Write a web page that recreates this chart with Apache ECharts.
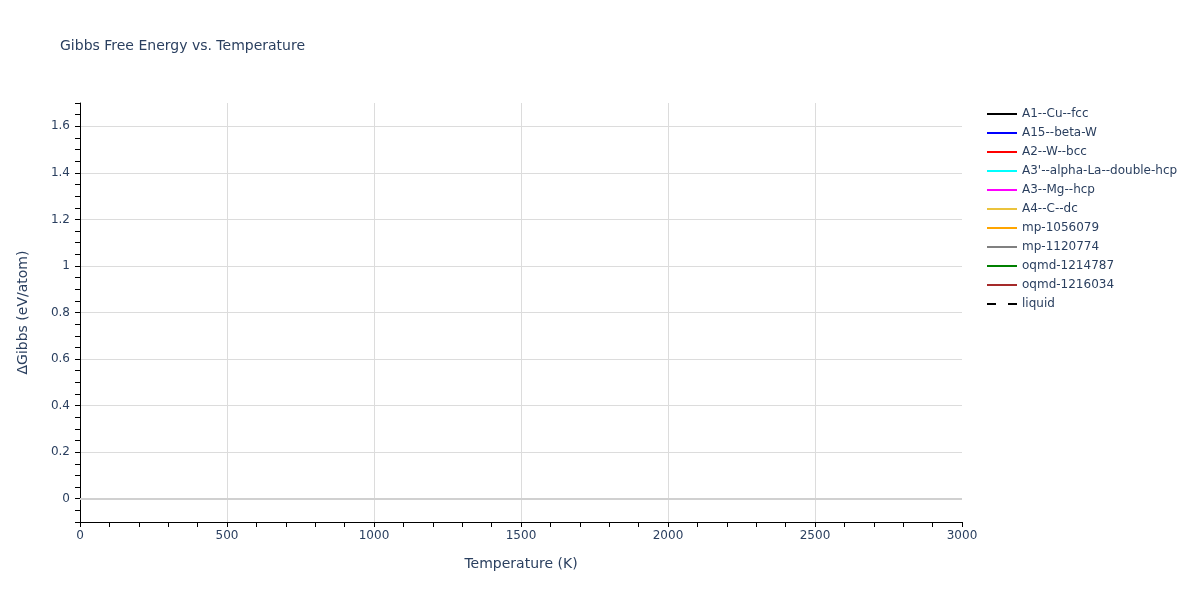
<!DOCTYPE html>
<html>
<head>
<meta charset="utf-8">
<script src="https://cdn.jsdelivr.net/npm/echarts@6/dist/echarts.min.js"></script>
<style>
html,body{margin:0;padding:0;background:#fff;}
#chart{width:1200px;height:600px;}
</style>
</head>
<body>
<div id="chart"></div>
<script>
// ---- data ----
const seriesNames = ['A1--Cu--fcc','A15--beta-W','A2--W--bcc',"A3'--alpha-La--double-hcp",'A3--Mg--hcp','A4--C--dc','mp-1056079','mp-1120774','oqmd-1214787','oqmd-1216034','liquid'];
const seriesColors = ['#000000','#0000ff','#ff0000','#00ffff','#ff00ff','#ebc33c','#ffa500','#808080','#008000','#a52a2a','#000000'];
const seriesDash = ['solid','solid','solid','solid','solid','solid','solid','solid','solid','solid','dashed'];
// no data points are visible in the reference: every series is empty
const seriesValues = [[],[],[],[],[],[],[],[],[],[],[]];
const xTickLabels = [0,500,1000,1500,2000,2500,3000];
const yTickLabels = [0,0.2,0.4,0.6,0.8,1,1.2,1.4,1.6];
const xRange = [0,3000];
const yRange = [-0.1,1.7];
const zeroLineValue = 0;

const textColor = '#2a3f5f';
const font = '"DejaVu Sans", Verdana, sans-serif';

function isTick(v, list){ return list.some(t => Math.abs(t - v) < 1e-6); }

const series = seriesNames.map((name, i) => {
  const s = {
    name: name,
    type: 'line',
    data: seriesValues[i],
    symbol: 'none',
    color: seriesColors[i],
    lineStyle: { width: 2, color: seriesColors[i], type: seriesDash[i] === 'dashed' ? [9, 12] : 'solid' },
    animation: false
  };
  if (i === 0) {
    s.markLine = {
      silent: true, symbol: 'none', animation: false,
      label: { show: false },
      lineStyle: { color: '#d0d0d0', width: 2, type: 'solid' },
      data: [{ yAxis: zeroLineValue }]
    };
  }
  return s;
});

const chart = echarts.init(document.getElementById('chart'), null, { renderer: 'canvas' });
chart.setOption({
  backgroundColor: '#ffffff',
  animation: false,
  title: {
    text: 'Gibbs Free Energy vs. Temperature',
    left: 55, top: 34,
    textStyle: { fontFamily: font, fontSize: 14, fontWeight: 'normal', color: textColor }
  },
  legend: {
    orient: 'vertical',
    left: 986, top: 108, padding: 0,
    itemWidth: 30, itemHeight: 14, itemGap: 7,
    itemStyle: { opacity: 0, color: 'transparent', borderWidth: 0 },
    textStyle: { fontFamily: font, fontSize: 12, color: textColor },
    data: seriesNames
  },
  grid: { left: 80, right: 238, top: 103, bottom: 78, containLabel: false },
  xAxis: {
    type: 'value',
    min: xRange[0], max: xRange[1], interval: 100,
    name: 'Temperature (K)', nameLocation: 'middle', nameGap: 35,
    nameTextStyle: { fontFamily: font, fontSize: 14, color: textColor },
    axisLine: { show: true, onZero: false, lineStyle: { color: '#000', width: 1 } },
    axisTick: { show: true, inside: false, length: 5, lineStyle: { color: '#000' } },
    axisLabel: {
      margin: 8, fontFamily: font, fontSize: 12, color: textColor,
      showMinLabel: true, showMaxLabel: true,
      formatter: v => isTick(v, xTickLabels) ? String(v) : ''
    },
    splitLine: {
      show: true, showMaxLine: false,
      lineStyle: { color: ['#dcdcdc','transparent','transparent','transparent','transparent'], width: 1 }
    }
  },
  yAxis: {
    type: 'value',
    min: yRange[0], max: yRange[1], interval: 0.05,
    name: 'ΔGibbs (eV/atom)', nameLocation: 'middle', nameGap: 50,
    nameTextStyle: { fontFamily: font, fontSize: 14, color: textColor },
    axisLine: { show: true, onZero: false, lineStyle: { color: '#000', width: 1 } },
    axisTick: { show: true, inside: false, length: 5, lineStyle: { color: '#000' } },
    axisLabel: {
      margin: 10, fontFamily: font, fontSize: 12, color: textColor,
      showMinLabel: true, showMaxLabel: true,
      formatter: v => isTick(v, yTickLabels) ? String(Math.round(v * 10) / 10) : ''
    },
    splitLine: {
      show: true,
      lineStyle: { color: ['transparent','transparent','#dcdcdc','transparent'], width: 1 }
    }
  },
  series: series
});
</script>
</body>
</html>
